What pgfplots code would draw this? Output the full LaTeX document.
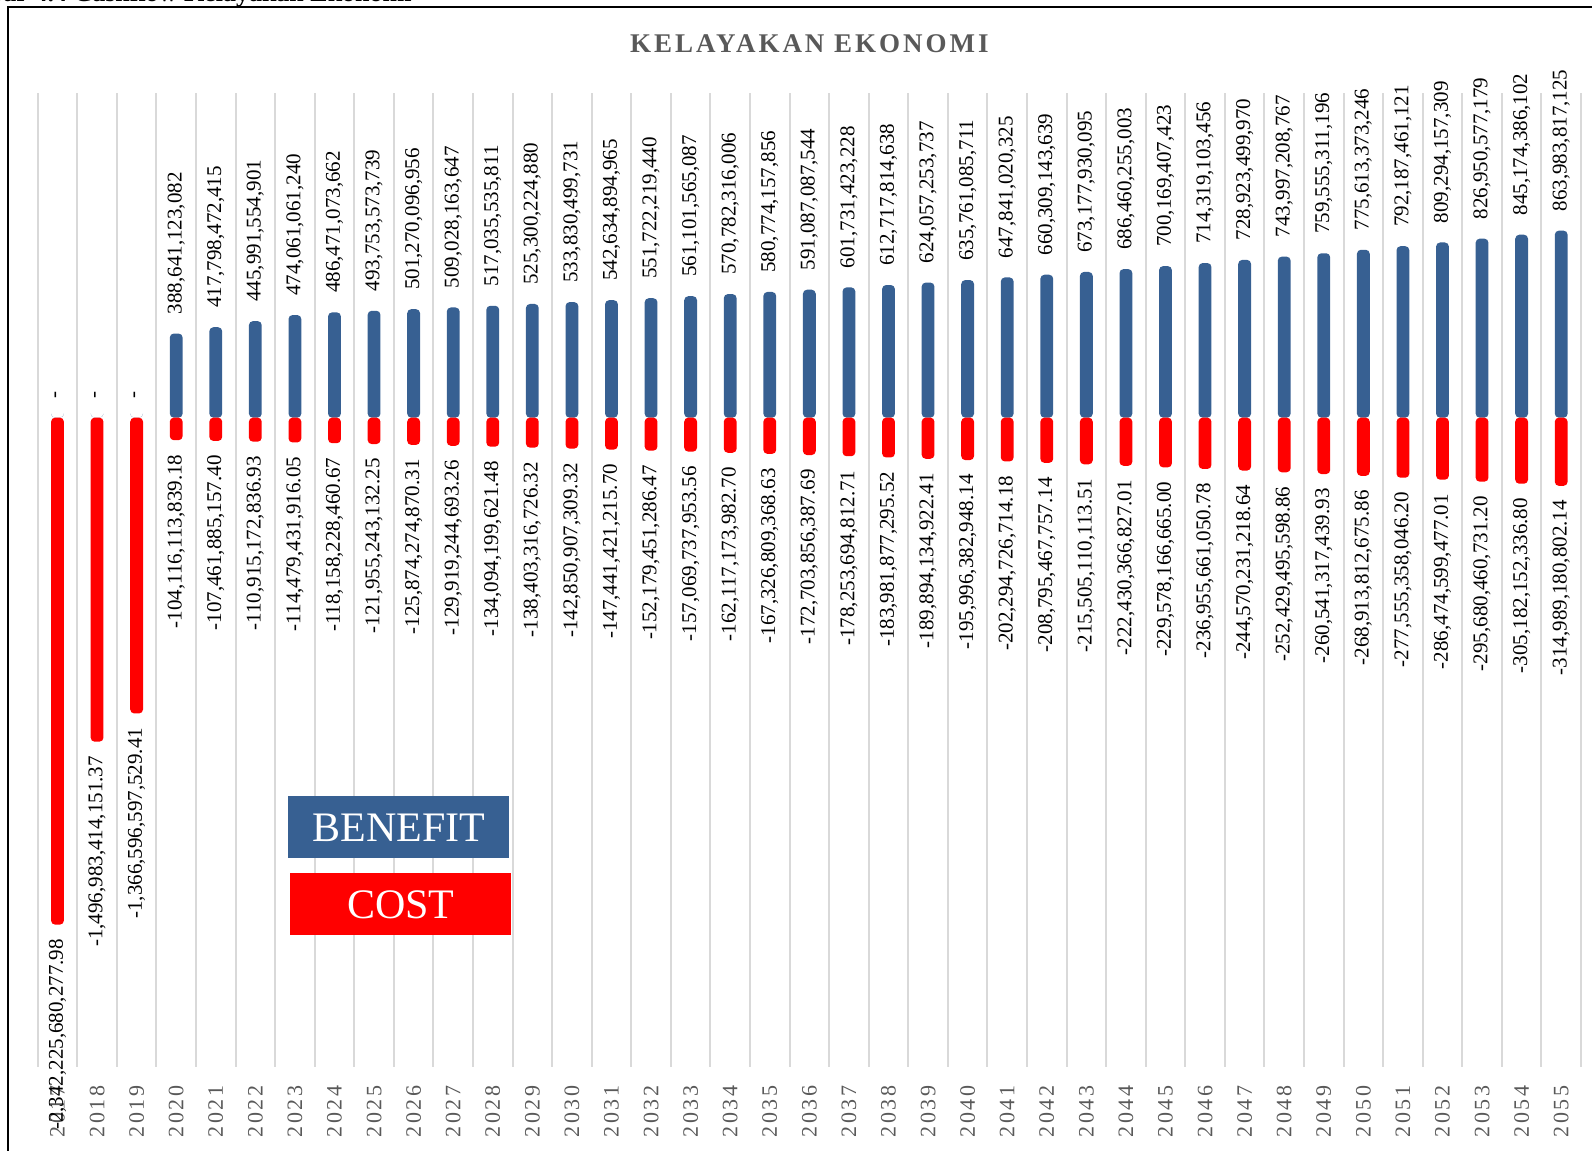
\documentclass[border=0pt]{standalone}
\usepackage{pgfplots}
\pgfplotsset{compat=1.18}
\usepackage{pgfplotstable}
\usepackage{fontspec}
\setmainfont{Liberation Serif}
\newfontfamily\yearfont[LetterSpace=12]{Liberation Serif}
\newfontfamily\titlefont[LetterSpace=11]{Liberation Serif}
\definecolor{benblue}{HTML}{376092}
\definecolor{costred}{HTML}{FF0000}
\definecolor{txtgray}{HTML}{595959}
\definecolor{gridgray}{HTML}{D9D9D9}

\pgfplotstableread{
x ben benlab cost costlab
0 0 - -2342225680277.98 -2,342,225,680,277.98
1 0 - -1496983414151.37 -1,496,983,414,151.37
2 0 - -1366596597529.41 -1,366,596,597,529.41
3 388641123082 388,641,123,082 -104116113839.18 -104,116,113,839.18
4 417798472415 417,798,472,415 -107461885157.40 -107,461,885,157.40
5 445991554901 445,991,554,901 -110915172836.93 -110,915,172,836.93
6 474061061240 474,061,061,240 -114479431916.05 -114,479,431,916.05
7 486471073662 486,471,073,662 -118158228460.67 -118,158,228,460.67
8 493753573739 493,753,573,739 -121955243132.25 -121,955,243,132.25
9 501270096956 501,270,096,956 -125874274870.31 -125,874,274,870.31
10 509028163647 509,028,163,647 -129919244693.26 -129,919,244,693.26
11 517035535811 517,035,535,811 -134094199621.48 -134,094,199,621.48
12 525300224880 525,300,224,880 -138403316726.32 -138,403,316,726.32
13 533830499731 533,830,499,731 -142850907309.32 -142,850,907,309.32
14 542634894965 542,634,894,965 -147441421215.70 -147,441,421,215.70
15 551722219440 551,722,219,440 -152179451286.47 -152,179,451,286.47
16 561101565087 561,101,565,087 -157069737953.56 -157,069,737,953.56
17 570782316006 570,782,316,006 -162117173982.70 -162,117,173,982.70
18 580774157856 580,774,157,856 -167326809368.63 -167,326,809,368.63
19 591087087544 591,087,087,544 -172703856387.69 -172,703,856,387.69
20 601731423228 601,731,423,228 -178253694812.71 -178,253,694,812.71
21 612717814638 612,717,814,638 -183981877295.52 -183,981,877,295.52
22 624057253737 624,057,253,737 -189894134922.41 -189,894,134,922.41
23 635761085711 635,761,085,711 -195996382948.14 -195,996,382,948.14
24 647841020325 647,841,020,325 -202294726714.18 -202,294,726,714.18
25 660309143639 660,309,143,639 -208795467757.14 -208,795,467,757.14
26 673177930095 673,177,930,095 -215505110113.51 -215,505,110,113.51
27 686460255003 686,460,255,003 -222430366827.01 -222,430,366,827.01
28 700169407423 700,169,407,423 -229578166665.00 -229,578,166,665.00
29 714319103456 714,319,103,456 -236955661050.78 -236,955,661,050.78
30 728923499970 728,923,499,970 -244570231218.64 -244,570,231,218.64
31 743997208767 743,997,208,767 -252429495598.86 -252,429,495,598.86
32 759555311196 759,555,311,196 -260541317439.93 -260,541,317,439.93
33 775613373246 775,613,373,246 -268913812675.86 -268,913,812,675.86
34 792187461121 792,187,461,121 -277555358046.20 -277,555,358,046.20
35 809294157309 809,294,157,309 -286474599477.01 -286,474,599,477.01
36 826950577179 826,950,577,179 -295680460731.20 -295,680,460,731.20
37 845174386102 845,174,386,102 -305182152336.80 -305,182,152,336.80
38 863983817125 863,983,817,125 -314989180802.14 -314,989,180,802.14
}\data

\begin{document}
\begin{tikzpicture}
\useasboundingbox (-18.85pt,-42pt) rectangle (777.15pt,533.5pt);
\draw[line width=1pt] (-14.85pt,-80pt) -- (-14.85pt,529.75pt) -- (820pt,529.75pt);
\node[anchor=base east, inner sep=0pt, font=\bfseries\fontsize{13}{15}\selectfont] at (187.15pt,532.6pt) {Gambar 4.4 Cashflow Kelayakan Ekonomi};
\begin{axis}[
  name=ax, at={(0,0)}, anchor=south west,
  scale only axis, width=771.65pt, height=487pt,
  xmin=-0.5, xmax=38.5, ymin=-3e12, ymax=1.5e12,
  clip=false,
  axis line style={draw=none},
  ytick=\empty,
  xtick={0,...,38},
  xticklabels={2017,2018,2019,2020,2021,2022,2023,2024,2025,2026,2027,2028,2029,2030,2031,2032,2033,2034,2035,2036,2037,2038,2039,2040,2041,2042,2043,2044,2045,2046,2047,2048,2049,2050,2051,2052,2053,2054,2055},
  major tick length=0pt, minor tick length=0pt,
  minor xtick={-0.5,0.5,...,38.5},
  xminorgrids=true,
  minor grid style={gridgray, line width=1pt},
  xticklabel style={rotate=90, anchor=east, inner sep=0pt, font={\fontsize{11}{13}\selectfont\yearfont}, text=txtgray},
  xticklabel shift=9pt,
  ybar, bar width=6.4pt, bar shift=0pt,
  point meta=explicit symbolic,
  nodes near coords,
  every node near coord/.append style={rotate=90, font=\fontsize{10.5}{12}\selectfont, text=black},
]
\addplot[fill=benblue, draw=none, rounded corners=2pt,
  every node near coord/.append style={anchor=west, inner xsep=9.5pt, inner ysep=0pt}]
  table[x=x, y=ben, meta=benlab] {\data};
\addplot[fill=costred, draw=none, rounded corners=2pt,
  every node near coord/.append style={anchor=east, inner xsep=7pt, inner ysep=0pt}]
  table[x=x, y=cost, meta=costlab] {\data};
\end{axis}
\node[anchor=base, text=txtgray, font=\titlefont\bfseries\fontsize{13.5}{16}\selectfont] at ([yshift=20pt]ax.north) {KELAYAKAN EKONOMI};
\node[anchor=north west, fill=benblue, text=white, minimum width=110.5pt, minimum height=31pt, inner sep=0pt, font=\fontsize{21}{24}\selectfont] at (125.15pt,135.5pt) {BENEFIT};
\node[anchor=north west, fill=costred, text=white, minimum width=110.5pt, minimum height=31pt, inner sep=0pt, font=\fontsize{21}{24}\selectfont] at (126.15pt,97pt) {COST};
\end{tikzpicture}
\end{document}
